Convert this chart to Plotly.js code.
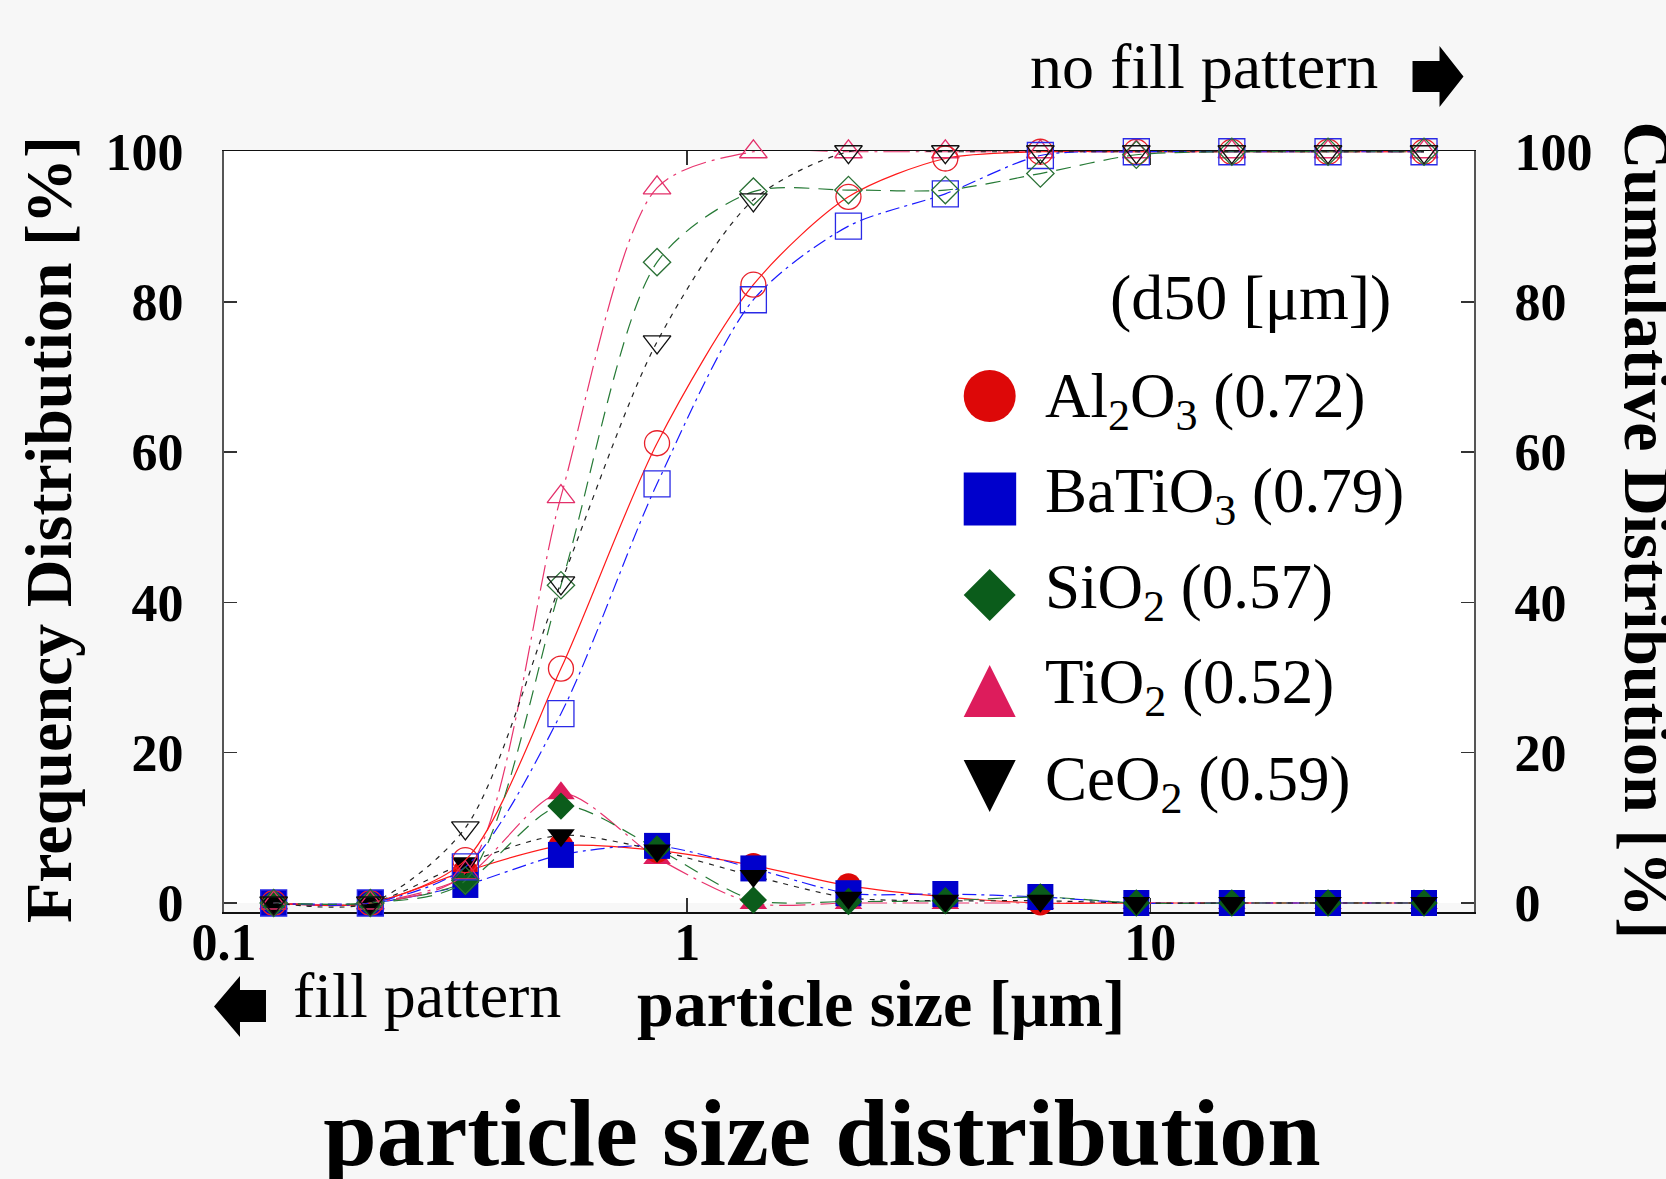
<!DOCTYPE html>
<html>
<head>
<meta charset="utf-8">
<script src="https://cdn.plot.ly/plotly-3.0.1.min.js"></script>
<style>
html,body{margin:0;padding:0;background:#f7f7f7;}
#chart{width:1666px;height:1179px;}
</style>
</head>
<body>
<div id="chart"></div>
<script>
// ---------------- data ----------------
const sizeUm = [0.128, 0.207, 0.332, 0.534, 0.861, 1.39, 2.23, 3.61, 5.79, 9.33, 15.0, 24.2, 39.0];
const materials = ['Al2O3', 'BaTiO3', 'SiO2', 'TiO2', 'CeO2'];
const materialLabels = ['Al<sub>2</sub>O<sub>3</sub>', 'BaTiO<sub>3</sub>', 'SiO<sub>2</sub>', 'TiO<sub>2</sub>', 'CeO<sub>2</sub>'];
const d50 = ['0.72', '0.79', '0.57', '0.52', '0.59'];

// cumulative distribution [%] (open markers, right axis)
const cumAl2O3  = [0, 0, 5.7, 31.2, 61.2, 82.3, 94.0, 99.1, 100, 100, 100, 100, 100];
const cumBaTiO3 = [0, 0, 4.8, 25.2, 55.8, 80.3, 90.1, 94.4, 99.5, 100, 100, 100, 100];
const cumSiO2   = [0, 0, 3.0, 42.3, 85.3, 94.7, 94.9, 94.9, 97.1, 99.6, 100, 100, 100];
const cumTiO2   = [0, 0, 4.0, 54.1, 95.2, 100, 100, 100, 100, 100, 100, 100, 100];
const cumCeO2   = [0, 0, 10.0, 42.6, 74.7, 93.6, 100, 100, 100, 100, 100, 100, 100];

// frequency distribution [%] (filled markers, left axis)
const freqAl2O3  = [0, 0, 4.2, 7.6, 7.0, 5.0, 2.3, 0.8, 0, 0, 0, 0, 0];
const freqBaTiO3 = [0, 0, 2.4, 6.4, 7.6, 4.6, 1.3, 1.2, 0.8, 0, 0, 0, 0];
const freqSiO2   = [0, 0, 2.8, 12.9, 7.2, 0.4, 0.2, 0.3, 0.8, 0, 0, 0, 0];
const freqTiO2   = [0, 0, 3.5, 14.6, 6.0, 0, 0, 0, 0, 0, 0, 0, 0];
const freqCeO2   = [0, 0, 5.3, 9.0, 7.0, 3.6, 0.7, 0.3, 0.3, 0, 0, 0, 0];

const yTicks = [0, 20, 40, 60, 80, 100];
const xTicks = [0.1, 1, 10];
const xTickText = ['0.1', '1', '10'];

// ---------------- styles ----------------
const SERIF = 'Liberation Serif, Times New Roman, serif';
const styles = {
  Al2O3:  {fill: '#dd0808', open: '#e8202a', line: '#ff1a1a', dash: 'solid',            sym: 'circle',        size: 25},
  BaTiO3: {fill: '#0000cc', open: '#2a2ae6', line: '#1a1aff', dash: '14px,5px,3px,5px', sym: 'square',        size: 26},
  SiO2:   {fill: '#0b5c1b', open: '#2a7035', line: '#267a36', dash: '15px,9px',         sym: 'diamond',       size: 21},
  TiO2:   {fill: '#dd1c5c', open: '#e3306a', line: '#e8336d', dash: '26px,6px,3px,6px', sym: 'triangle-up',   size: 24},
  CeO2:   {fill: '#000000', open: '#111111', line: '#222222', dash: '5px,6px',          sym: 'triangle-down', size: 24}
};
const cumData = {Al2O3: cumAl2O3, BaTiO3: cumBaTiO3, SiO2: cumSiO2, TiO2: cumTiO2, CeO2: cumCeO2};
const freqData = {Al2O3: freqAl2O3, BaTiO3: freqBaTiO3, SiO2: freqSiO2, TiO2: freqTiO2, CeO2: freqCeO2};

// ---------------- geometry ----------------
const PW = 1666, PH = 1179;
const L = 224, R = 1474.5, T = 151, B = 912;
function px(x) { return (x - L) / (R - L); }
function py(y) { return (B - y) / (B - T); }
function pathPx(pts) { return 'M' + pts.map(p => px(p[0]).toFixed(5) + ',' + py(p[1]).toFixed(5)).join('L') + 'Z'; }

const drawOrder = ['TiO2', 'Al2O3', 'BaTiO3', 'SiO2', 'CeO2'];
const SMOOTH = 0.8;
const traces = [];

// cumulative curves + open markers (right axis)
drawOrder.forEach(m => {
  const s = styles[m];
  traces.push({x: sizeUm, y: cumData[m], yaxis: 'y2', mode: 'lines', name: m + ' cumulative',
    line: {color: s.line, width: 1.2, dash: s.dash, shape: 'spline', smoothing: SMOOTH}, hoverinfo: 'skip', showlegend: false});
});
drawOrder.forEach(m => {
  const s = styles[m];
  traces.push({x: sizeUm, y: cumData[m], yaxis: 'y2', mode: 'markers', name: m + ' cumulative', cliponaxis: false,
    marker: {symbol: s.sym + '-open', size: s.size, color: s.open, line: {width: 1.3, color: s.open}}, showlegend: false});
});
// frequency curves + filled markers (left axis)
drawOrder.forEach(m => {
  const s = styles[m];
  traces.push({x: sizeUm, y: freqData[m], yaxis: 'y', mode: 'lines', name: m + ' frequency',
    line: {color: s.line, width: 1.2, dash: s.dash, shape: 'spline', smoothing: SMOOTH}, hoverinfo: 'skip', showlegend: false});
});
drawOrder.forEach(m => {
  const s = styles[m];
  traces.push({x: sizeUm, y: freqData[m], yaxis: 'y', mode: 'markers', name: m + ' frequency', cliponaxis: false,
    marker: {symbol: s.sym, size: s.size, color: s.fill, line: {width: 0}}, showlegend: false});
});

// ---------------- annotations ----------------
function ann(text, x, y, size, extra) {
  return Object.assign({text: text, xref: 'paper', yref: 'paper', x: px(x), y: py(y), showarrow: false,
    font: {family: SERIF, size: size, color: '#000'}, xanchor: 'center', yanchor: 'middle'}, extra || {});
}
const boldFont = {family: SERIF, size: 66, color: '#000', weight: 'bold'};
const annotations = [
  ann('particle size [μm]', 881, 1004, 66, {font: boldFont}),
  ann('Frequency Distribution [%]', 48, 530, 66, {textangle: -90, font: boldFont}),
  ann('Cumulative Distribution [%]', 1649, 531, 66, {textangle: 90, font: boldFont}),
  ann('no fill pattern', 1028, 66, 64, {xanchor: 'left'}),
  ann('fill pattern', 291, 995, 64, {xanchor: 'left'}),
  ann('(d50 [μm])', 1108, 297, 64, {xanchor: 'left'})
];
const legendMid = [400, 495, 591, 686, 783];
materials.forEach((m, i) => {
  annotations.push(ann(materialLabels[i] + ' (' + d50[i] + ')', 1043, legendMid[i], 63, {xanchor: 'left'}));
});

// ---------------- shapes ----------------
const shapes = [
  {type: 'rect', xref: 'paper', yref: 'y', x0: 0, x1: 1, y0: -1.3, y1: 0, fillcolor: '#f7f7f7', line: {width: 0}, layer: 'below'},
  // arrows
  {type: 'path', xref: 'paper', yref: 'paper', layer: 'above', fillcolor: '#000', line: {width: 0},
   path: pathPx([[1413, 61], [1440, 61], [1440, 46], [1464, 76.5], [1440, 107], [1440, 92], [1413, 92]])},
  {type: 'path', xref: 'paper', yref: 'paper', layer: 'above', fillcolor: '#000', line: {width: 0},
   path: pathPx([[266, 990], [240, 990], [240, 976], [214, 1006.5], [240, 1037], [240, 1022], [266, 1022]])},
  // legend symbols
  {type: 'circle', xref: 'paper', yref: 'paper', layer: 'above', fillcolor: styles.Al2O3.fill, line: {width: 0},
   x0: px(964), x1: px(1016), y0: py(422), y1: py(370)},
  {type: 'rect', xref: 'paper', yref: 'paper', layer: 'above', fillcolor: styles.BaTiO3.fill, line: {width: 0},
   x0: px(964), x1: px(1016.5), y0: py(525.5), y1: py(472.5)},
  {type: 'path', xref: 'paper', yref: 'paper', layer: 'above', fillcolor: styles.SiO2.fill, line: {width: 0},
   path: pathPx([[990, 569], [1016, 595], [990, 621], [964, 595]])},
  {type: 'path', xref: 'paper', yref: 'paper', layer: 'above', fillcolor: styles.TiO2.fill, line: {width: 0},
   path: pathPx([[990, 665], [1016, 717], [964, 717]])},
  {type: 'path', xref: 'paper', yref: 'paper', layer: 'above', fillcolor: styles.CeO2.fill, line: {width: 0},
   path: pathPx([[964, 760], [1016, 760], [990, 812]])}
];

// ---------------- layout ----------------
const tickFont = {family: SERIF, size: 52, color: '#000', weight: 'bold'};
const layout = {
  width: PW, height: PH,
  paper_bgcolor: '#f7f7f7', plot_bgcolor: '#ffffff',
  margin: {l: L, r: PW - R, t: T, b: PH - B, pad: 0},
  showlegend: false,
  title: {text: 'particle size distribution', font: {family: SERIF, size: 96, color: '#000', weight: 'bold'},
          xref: 'container', yref: 'container', x: 822 / PW, xanchor: 'center', y: 1 - 1131 / PH, yanchor: 'middle'},
  xaxis: {type: 'log', range: [Math.log10(0.1), Math.log10(50)], tickvals: xTicks, ticktext: xTickText,
          ticks: 'inside', ticklen: 14, tickwidth: 1.5, tickcolor: '#333', mirror: 'ticks',
          showline: true, linecolor: '#111', linewidth: 1.5, showgrid: false, zeroline: false,
          tickfont: tickFont, ticklabelstandoff: -16, layer: 'below traces'},
  yaxis: {range: [-1.2, 100.1], tickvals: yTicks, ticks: 'inside', ticklen: 13, tickwidth: 1.5, tickcolor: '#333',
          showline: true, linecolor: '#555', linewidth: 2, showgrid: false, zeroline: false,
          tickfont: tickFont, ticklabelstandoff: 28, layer: 'below traces'},
  yaxis2: {range: [-1.2, 100.1], tickvals: yTicks, overlaying: 'y', side: 'right', ticks: 'inside', ticklen: 13,
           tickwidth: 1.5, tickcolor: '#333', showline: true, linecolor: '#555', linewidth: 2, showgrid: false,
           zeroline: false, tickfont: tickFont, ticklabelstandoff: 28, layer: 'below traces'},
  annotations: annotations,
  shapes: shapes
};

Plotly.newPlot('chart', traces, layout, {displayModeBar: false, staticPlot: true});
</script>
</body>
</html>
